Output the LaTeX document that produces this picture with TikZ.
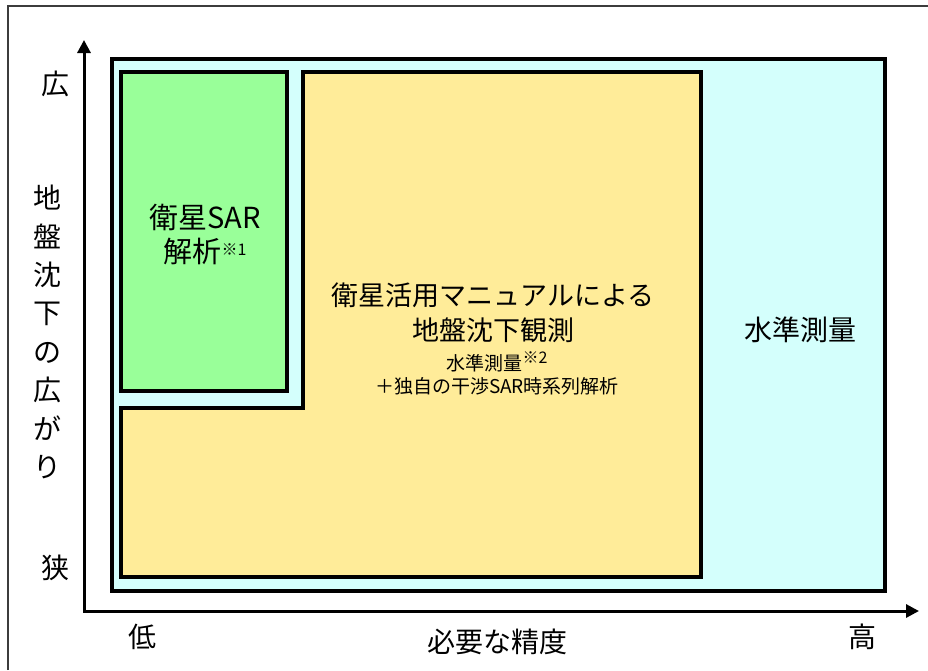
\documentclass[tikz,border=0pt]{standalone}
\usepackage{fontspec}
\setmainfont{Noto Sans CJK JP}
\usetikzlibrary{arrows.meta}
\definecolor{cyanfill}{RGB}{212,255,252}
\definecolor{greenfill}{RGB}{153,255,153}
\definecolor{yellowfill}{RGB}{255,236,153}
\definecolor{framegray}{RGB}{60,60,60}
\newcommand{\bigfs}{\fontsize{28}{34}\selectfont}
\newcommand{\smallfs}{\fontsize{19}{23}\selectfont}
\newcommand{\supnote}[1]{\raisebox{7pt}{\fontsize{16}{16}\selectfont #1}}
\tikzset{
  region/.style={draw=black, line width=3.8pt, line join=miter},
  axisline/.style={line width=3pt, {Triangle[length=13pt,width=13pt]}-{Triangle[length=13pt,width=13pt]}, line join=miter},
  lbl/.style={inner sep=0pt, font=\bigfs, text=black},
}
\begin{document}
\begin{tikzpicture}[x=1pt,y=-1pt]
\useasboundingbox (0,0) rectangle (928,670);
\fill[white] (0,0) rectangle (928,670);
\draw[framegray, line width=1.5pt] (8,670) -- (8,6) -- (928,6);

% regions
\draw[region, fill=cyanfill] (112,59) rectangle (885,591);
\draw[region, fill=greenfill] (121,72) rectangle (287,391);
\draw[region, fill=yellowfill] (303,72) -- (701,72) -- (701,577) -- (121,577) -- (121,408) -- (303,408) -- cycle;

% axes
\coordinate (O) at (84,611);
\coordinate (ytip) at (84,40);
\coordinate (xtip) at (919,611);
\draw[axisline] (ytip) -- (O) -- (xtip);

% axis labels
\node[lbl] (wide) at (55,84) {広};
\node[lbl] (narrow) at (55,568) {狭};
\node[lbl, align=center, font=\fontsize{28}{38.4}\selectfont] (yl) at (47,332) {地\\盤\\沈\\下\\の\\広\\が\\り};
\node[lbl] (low) at (142,637) {低};
\node[lbl] (high) at (862,637) {高};
\node[lbl] (xl) at (497,642) {必要な精度};

% region labels
\node[lbl, align=center, font=\fontsize{29}{34}\selectfont] (sar) at (205,234) {衛星SAR\\解析\supnote{※1}};
\node[lbl, align=center, font=\fontsize{27}{35}\selectfont] (manual) at (493,313) {衛星活用マニュアルによる\\地盤沈下観測};
\node[lbl, align=center, font=\smallfs] (manualsub) at (497,373) {水準測量\supnote{※2}\\＋独自の干渉SAR時系列解析};
\node[lbl] (level) at (800,330) {水準測量};
\end{tikzpicture}
\end{document}
